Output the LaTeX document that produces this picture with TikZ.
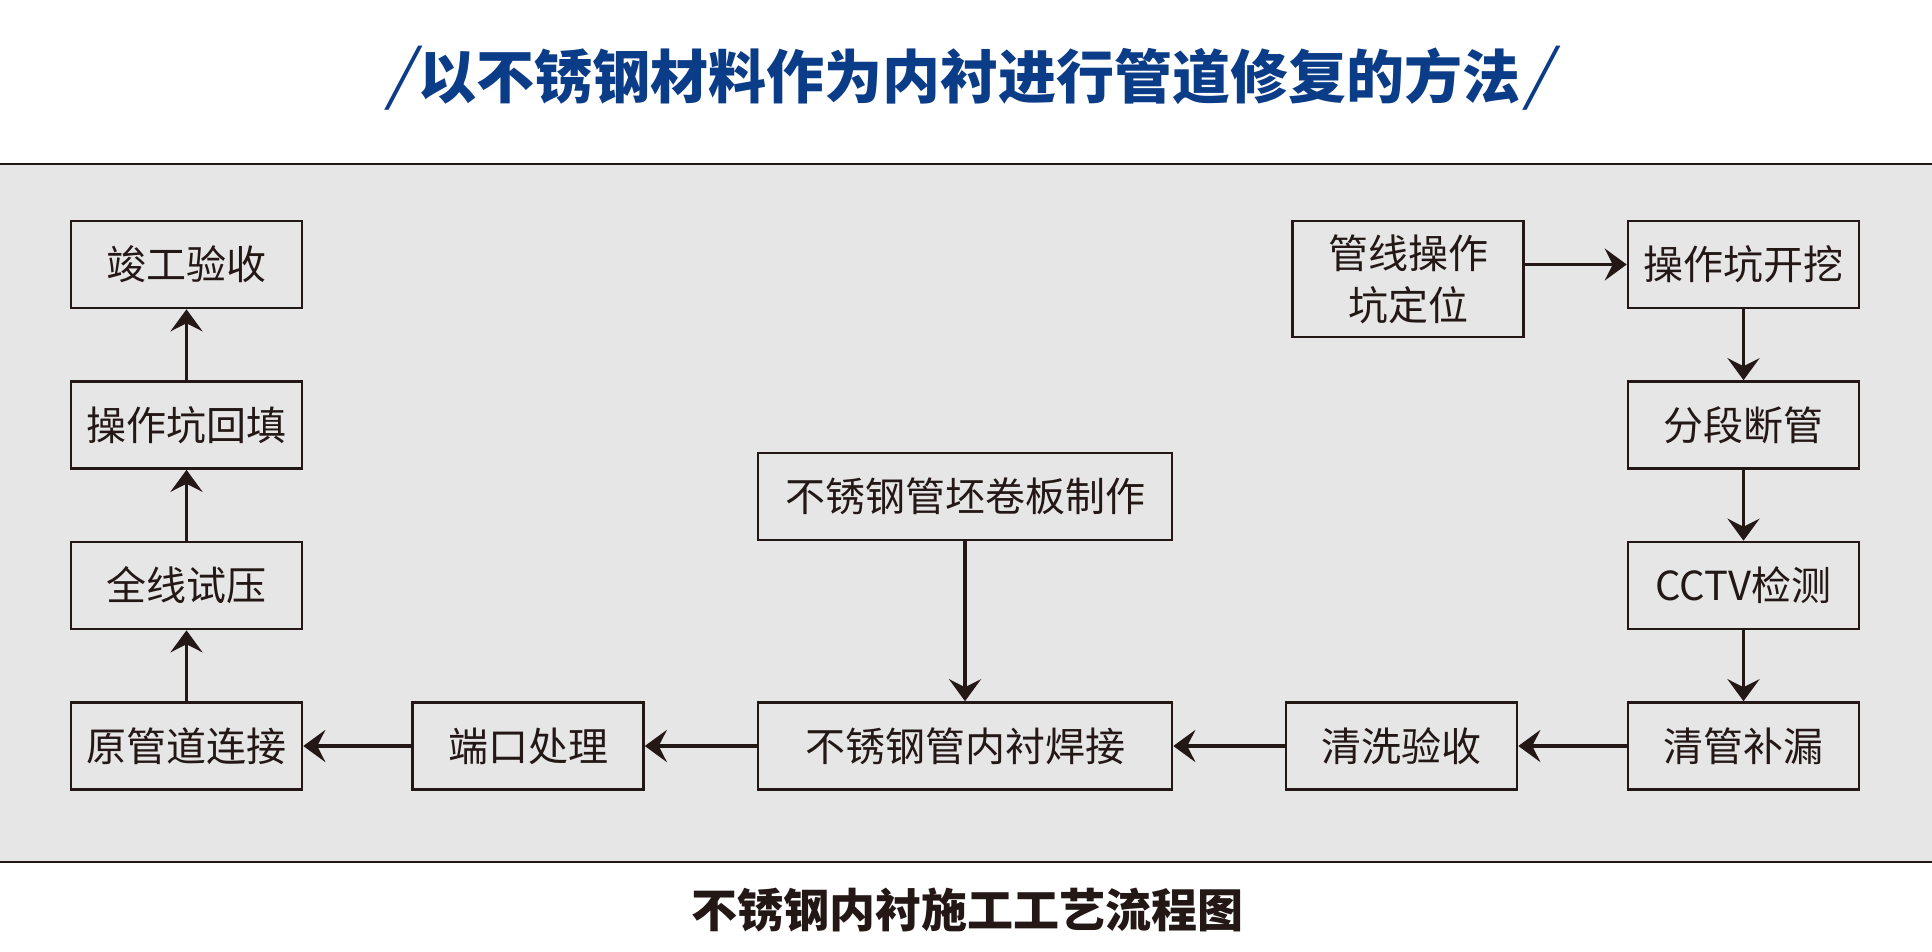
\documentclass[tikz,border=0pt]{standalone}
\usepackage{fontspec}
\setmainfont{Noto Sans CJK SC}
\usetikzlibrary{arrows.meta}
\definecolor{ink}{HTML}{231815}
\definecolor{band}{HTML}{E6E6E6}
\definecolor{titleblue}{HTML}{0B3C87}
\newcommand{\titleslash}{{\mdseries\fontsize{66}{66}\selectfont\addfontfeatures{FakeSlant=0.22}/}}
\begin{document}
\begin{tikzpicture}[x=1pt,y=-1pt,
  box/.style={draw=ink, line width=2.6pt, minimum width=231pt, minimum height=87pt,
    inner sep=0pt, text=ink, align=center, font=\fontsize{40}{52}\selectfont},
  widebox/.style={box, minimum width=414pt},
  arr/.style={draw=ink, line width=3.5pt, -{Stealth[length=22pt,width=32pt,inset=8pt]}}]
\useasboundingbox (0,0) rectangle (1932,952);
\fill[white] (0,0) rectangle (1932,952);
\fill[band] (0,164) rectangle (1932,862);
\draw[ink, line width=2.7pt] (0,164) -- (1932,164);
\draw[ink, line width=2.4pt] (0,862) -- (1932,862);

\node[text=titleblue, font=\fontsize{58}{58}\selectfont\bfseries, inner sep=0pt] (title) at (968,78)
  {\titleslash\kern6pt 以不锈钢材料作为内衬进行管道修复的方法\kern4pt\titleslash};

\node[box] (jg) at (186.5,264.5) {竣工验收};
\node[box] (htb) at (186.5,425) {操作坑回填};
\node[box] (sy) at (186.5,585.5) {全线试压};
\node[box] (lj) at (186.5,746) {原管道连接};
\node[box] (dk) at (528,746) {端口处理};
\node[widebox] (hj) at (965,746) {不锈钢管内衬焊接};
\node[widebox] (jb) at (965,496.5) {不锈钢管坯卷板制作};
\node[box] (qx) at (1401.5,746) {清洗验收};
\node[box] (bl) at (1743.5,746) {清管补漏};
\node[box] (cctv) at (1743.5,585.5) {CCTV检测};
\node[box] (dg) at (1743.5,425) {分段断管};
\node[box] (kw) at (1743.5,264.5) {操作坑开挖};
\node[box, minimum height=116pt] (dw) at (1408,279) {管线操作\\坑定位};

\draw[arr] (dw.east |- kw) -- (kw.west);
\draw[arr] (kw) -- (dg);
\draw[arr] (dg) -- (cctv);
\draw[arr] (cctv) -- (bl);
\draw[arr] (bl) -- (qx);
\draw[arr] (qx) -- (hj);
\draw[arr] (jb) -- (hj);
\draw[arr] (hj) -- (dk);
\draw[arr] (dk) -- (lj);
\draw[arr] (lj) -- (sy);
\draw[arr] (sy) -- (htb);
\draw[arr] (htb) -- (jg);

\node[text=ink, font=\fontsize{46}{46}\selectfont\bfseries, inner sep=0pt] (cap) at (967,910) {不锈钢内衬施工工艺流程图};
\end{tikzpicture}
\end{document}
